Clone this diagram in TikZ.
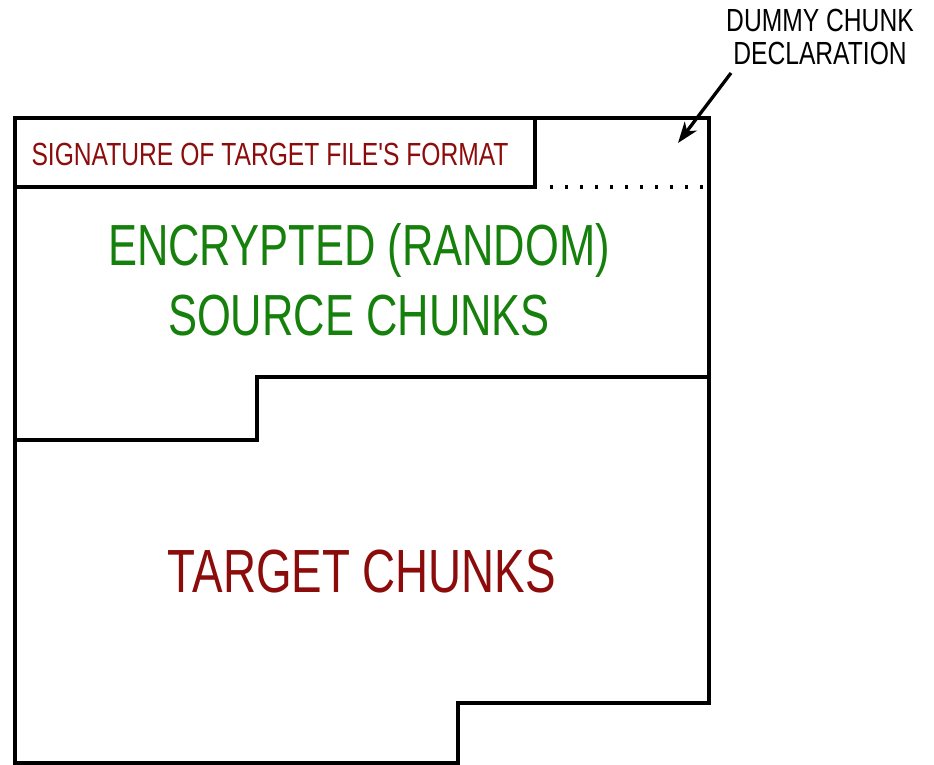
\documentclass[tikz,border=0pt]{standalone}
\usepackage{fontspec}
\newfontfamily\hand[FakeStretch=0.75]{Liberation Sans}
\newfontfamily\handwide[FakeStretch=0.77]{Liberation Sans}
\usetikzlibrary{arrows.meta}
\definecolor{sigred}{RGB}{140,12,12}
\definecolor{srcgreen}{RGB}{22,128,12}
\begin{document}
\begin{tikzpicture}[x=1pt,y=-1pt,
  wall/.style={line width=3.3pt, line join=miter},
  txt/.style={inner sep=0pt, anchor=base, align=center}]
\useasboundingbox (0,0) rectangle (934,765);

% corner points of the file layout
\coordinate (sigr) at (535,118);
\coordinate (sigbr) at (535,187);
\coordinate (sigbl) at (15,187);
\coordinate (dotl) at (550,187);
\coordinate (dotr) at (709,187);

% outer outline of the file
\draw[wall] (15,118) -- (709,118) -- (709,703) -- (458,703) -- (458,763)
  -- (15,763) -- cycle;
% signature box
\draw[wall] (sigbl) -- (sigbr) -- (sigr);
% dummy chunk boundary
\draw[line width=3.3pt, dash pattern=on 3pt off 12pt] (dotl) -- (dotr);
% boundary between source and target chunks
\draw[wall] (15,440) -- (257,440) -- (257,377) -- (709,377);

% labels (anchor base = baseline of the last line)
\node[txt, text=sigred, font=\handwide\fontsize{32}{36}\selectfont] (sig) at (270,165)
  {SIGNATURE OF TARGET FILE'S FORMAT};
\node[txt, text=srcgreen, font=\hand\fontsize{58}{70}\selectfont] (src) at (359,335)
  {ENCRYPTED (RANDOM)\\SOURCE CHUNKS};
\node[txt, text=sigred, font=\hand\fontsize{61}{70}\selectfont] (tgt) at (362,592)
  {TARGET CHUNKS};
\node[txt, font=\handwide\fontsize{32}{33}\selectfont] (dummy) at (820,65)
  {DUMMY CHUNK\\DECLARATION};

% pointer to the dummy chunk
\coordinate (ptail) at (731,73);
\coordinate (phead) at (678,143);
\draw[line width=3.3pt, -{Stealth[length=21pt,width=15pt,inset=6pt]}] (ptail) -- (phead);
\end{tikzpicture}
\end{document}
